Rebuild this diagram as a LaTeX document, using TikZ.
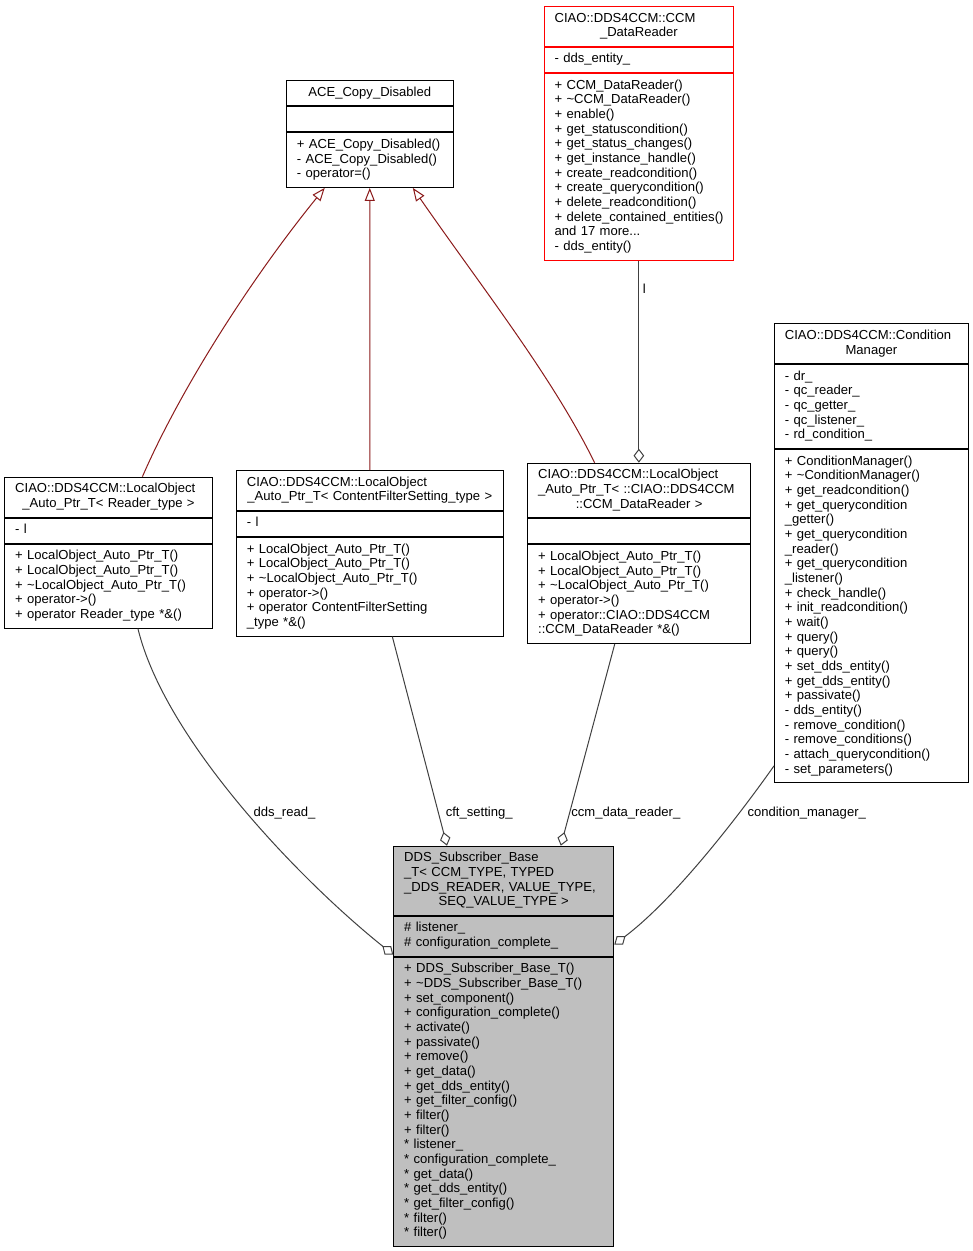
\documentclass[tikz,border=0pt]{standalone}
\usepackage{fontspec}
\setmainfont{Liberation Sans}
\usetikzlibrary{arrows.meta,calc}

\definecolor{edgered}{RGB}{139,26,26}
\definecolor{edgegrey}{RGB}{64,64,64}
\definecolor{nodegrey}{RGB}{191,191,191}

\newcommand{\ulist}[1]{\begin{tabular}{@{}l@{}}#1\end{tabular}}

\tikzset{every picture/.style={line width=0.75pt}}
\tikzset{
  classbox/.style={draw=black, anchor=north west, inner xsep=7.8pt, inner ysep=0pt,
    text width=#1, align=left, font=\fontsize{9.8}{11}\selectfont},
  nlines/.style={minimum height=#1*11pt+7.9pt},
  inherit/.style={draw=edgered, -{Triangle[open,length=9.75pt,width=7.5pt]}},
  aggr/.style={draw=edgegrey, -{Diamond[open,length=10.5pt,width=8pt]}},
  edgelabel/.style={anchor=base, inner sep=0pt, font=\fontsize{9.8}{11}\selectfont}
}

\begin{document}
\begin{tikzpicture}[x=0.75pt,y=0.75pt,yscale=-1,xscale=1]
%set diagram size
\useasboundingbox (0,0) rectangle (972,1251);

%Class: ACE_Copy_Disabled
\node (ace) [classbox=109.3pt, nlines=1] at (286,80) {\ulist{\makebox[\linewidth]{ACE\_Copy\_Disabled}}};
\node (aceattr) [classbox=109.3pt, nlines=1] at (ace.south west) {};
\node (aceops) [classbox=109.3pt, nlines=3] at (aceattr.south west) {\ulist{+ ACE\_Copy\_Disabled()\\- ACE\_Copy\_Disabled()\\- operator=()}};

%Class: CCM_DataReader
\node (ccm) [classbox=126.4pt, nlines=2, draw=red] at (543.7,6) {\ulist{CIAO::DDS4CCM::CCM\\\makebox[\linewidth]{\_DataReader}}};
\node (ccmattr) [classbox=126.4pt, nlines=1, draw=red] at (ccm.south west) {\ulist{- dds\_entity\_}};
\node (ccmops) [classbox=126.4pt, nlines=12, draw=red] at (ccmattr.south west) {\ulist{+ CCM\_DataReader()\\+ \textasciitilde CCM\_DataReader()\\+ enable()\\+ get\_statuscondition()\\+ get\_status\_changes()\\+ get\_instance\_handle()\\+ create\_readcondition()\\+ create\_querycondition()\\+ delete\_readcondition()\\+ delete\_contained\_entities()\\and 17 more...\\- dds\_entity()}};

%Class: LocalObject_Auto_Ptr_T< Reader_type >
\node (lr) [classbox=140pt, nlines=2] at (4.3,476.7) {\ulist{CIAO::DDS4CCM::LocalObject\\\makebox[\linewidth]{\_Auto\_Ptr\_T< Reader\_type >}}};
\node (lrattr) [classbox=140pt, nlines=1] at (lr.south west) {\ulist{- l}};
\node (lrops) [classbox=140pt, nlines=5] at (lrattr.south west) {\ulist{+ LocalObject\_Auto\_Ptr\_T()\\+ LocalObject\_Auto\_Ptr\_T()\\+ \textasciitilde LocalObject\_Auto\_Ptr\_T()\\+ operator->()\\+ operator Reader\_type *\&()}};

%Class: LocalObject_Auto_Ptr_T< ContentFilterSetting_type >
\node (cf) [classbox=184.4pt, nlines=2] at (236,470) {\ulist{CIAO::DDS4CCM::LocalObject\\\makebox[\linewidth]{\_Auto\_Ptr\_T< ContentFilterSetting\_type >}}};
\node (cfattr) [classbox=184.4pt, nlines=1] at (cf.south west) {\ulist{- l}};
\node (cfops) [classbox=184.4pt, nlines=6] at (cfattr.south west) {\ulist{+ LocalObject\_Auto\_Ptr\_T()\\+ LocalObject\_Auto\_Ptr\_T()\\+ \textasciitilde LocalObject\_Auto\_Ptr\_T()\\+ operator->()\\+ operator ContentFilterSetting\\\_type *\&()}};

%Class: LocalObject_Auto_Ptr_T< ::CIAO::DDS4CCM::CCM_DataReader >
\node (lc) [classbox=151.4pt, nlines=3] at (527.3,462.7) {\ulist{CIAO::DDS4CCM::LocalObject\\\_Auto\_Ptr\_T< ::CIAO::DDS4CCM\\\makebox[\linewidth]{::CCM\_DataReader >}}};
\node (lcattr) [classbox=151.4pt, nlines=1] at (lc.south west) {};
\node (lcops) [classbox=151.4pt, nlines=6] at (lcattr.south west) {\ulist{+ LocalObject\_Auto\_Ptr\_T()\\+ LocalObject\_Auto\_Ptr\_T()\\+ \textasciitilde LocalObject\_Auto\_Ptr\_T()\\+ operator->()\\+ operator::CIAO::DDS4CCM\\::CCM\_DataReader *\&()}};

%Class: ConditionManager
\node (cm) [classbox=129.7pt, nlines=2] at (774,323.3) {\ulist{CIAO::DDS4CCM::Condition\\\makebox[\linewidth]{Manager}}};
\node (cmattr) [classbox=129.7pt, nlines=5] at (cm.south west) {\ulist{- dr\_\\- qc\_reader\_\\- qc\_getter\_\\- qc\_listener\_\\- rd\_condition\_}};
\node (cmops) [classbox=129.7pt, nlines=22] at (cmattr.south west) {\ulist{+ ConditionManager()\\+ \textasciitilde ConditionManager()\\+ get\_readcondition()\\+ get\_querycondition\\\_getter()\\+ get\_querycondition\\\_reader()\\+ get\_querycondition\\\_listener()\\+ check\_handle()\\+ init\_readcondition()\\+ wait()\\+ query()\\+ query()\\+ set\_dds\_entity()\\+ get\_dds\_entity()\\+ passivate()\\- dds\_entity()\\- remove\_condition()\\- remove\_conditions()\\- attach\_querycondition()\\- set\_parameters()}};

%Class: DDS_Subscriber_Base_T
\node (ds) [classbox=149.4pt, nlines=4, fill=nodegrey] at (393.3,845.7) {\ulist{DDS\_Subscriber\_Base\\\_T< CCM\_TYPE, TYPED\\\_DDS\_READER, VALUE\_TYPE,\\\makebox[\linewidth]{SEQ\_VALUE\_TYPE >}}};
\node (dsattr) [classbox=149.4pt, nlines=2, fill=nodegrey] at (ds.south west) {\ulist{\# listener\_\\\# configuration\_complete\_}};
\node (dsops) [classbox=149.4pt, nlines=19, fill=nodegrey] at (dsattr.south west) {\ulist{+ DDS\_Subscriber\_Base\_T()\\+ \textasciitilde DDS\_Subscriber\_Base\_T()\\+ set\_component()\\+ configuration\_complete()\\+ activate()\\+ passivate()\\+ remove()\\+ get\_data()\\+ get\_dds\_entity()\\+ get\_filter\_config()\\+ filter()\\+ filter()\\{*} listener\_\\{*} configuration\_complete\_\\{*} get\_data()\\{*} get\_dds\_entity()\\{*} get\_filter\_config()\\{*} filter()\\{*} filter()}};

%Inheritance
\draw [inherit] ($(lr.north west)!0.6625!(lr.north east)$) .. controls (180,390) and (250,280) .. ($(aceops.south west)!0.231!(aceops.south east)$);
\draw [inherit] (cf.north) -- (aceops.south);
\draw [inherit] ($(lc.north west)!0.301!(lc.north east)$) .. controls (552,376) and (480,285) .. ($(aceops.south west)!0.757!(aceops.south east)$);

%Usage
\draw [aggr] (ccmops.south) -- (ccmops.south |- lc.north);
\draw [aggr] ($(lrops.south west)!0.641!(lrops.south east)$) .. controls (165,740) and (300,880) .. ($(dsattr.north west)!0.95!(dsattr.south west)$);
\draw [aggr] ($(cfops.south west)!0.584!(cfops.south east)$) -- ($(ds.north west)!0.243!(ds.north east)$);
\draw [aggr] ($(lcops.south west)!0.391!(lcops.south east)$) -- ($(ds.north west)!0.758!(ds.north east)$);
\draw [aggr] ($(cmops.north west)!0.948!(cmops.south west)$) .. controls (750,800) and (680,895) .. ($(dsattr.north east)!0.7!(dsattr.south east)$);

% Text Node
\node (lbll) [edgelabel] at (644.3,293.3) {l};
% Text Node
\node (lblread) [edgelabel] at (284.5,816.5) {dds\_read\_};
% Text Node
\node (lblcft) [edgelabel] at (479.2,816.5) {cft\_setting\_};
% Text Node
\node (lblccm) [edgelabel] at (625.8,816.5) {ccm\_data\_reader\_};
% Text Node
\node (lblcond) [edgelabel] at (806.7,816.5) {condition\_manager\_};

\end{tikzpicture}
\end{document}
